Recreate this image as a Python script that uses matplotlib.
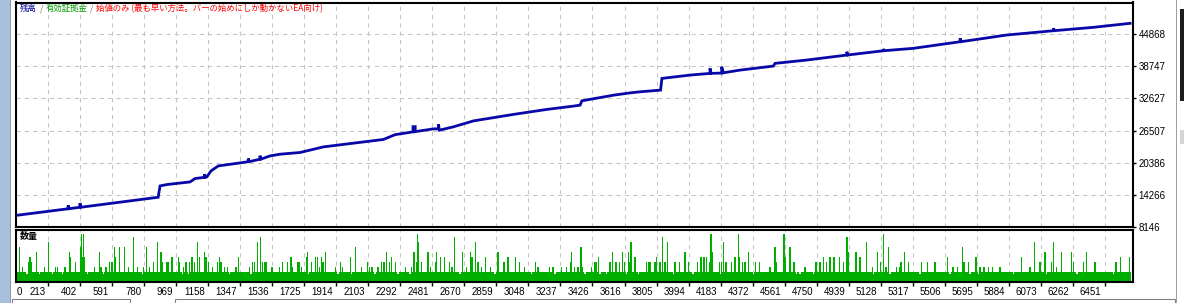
import numpy as np
import matplotlib.pyplot as plt
from matplotlib.patches import Rectangle
from matplotlib.offsetbox import TextArea, HPacker, AnchoredOffsetbox

W, H = 1184, 303
JP = ['Noto Sans CJK JP', 'DejaVu Sans']

# balance curve (trade no., balance)
bal_trade = [28, 330, 330, 336, 400, 400, 406, 862, 873, 913, 1050, 1080,
             1135, 1135, 1141, 1149, 1174, 1217, 1345, 1394, 1394, 1400,
             1463, 1463, 1469, 1523, 1582, 1700, 1838, 2192, 2261, 2367,
             2367, 2380, 2380, 2487, 2517, 2517, 2523, 2605, 2725, 2959,
             3156, 3314, 3354, 3364, 3553, 3652, 3708, 3829, 3837, 4003,
             4121, 4121, 4127, 4190, 4190, 4200, 4299, 4495, 4505, 4691,
             4929, 4929, 4935, 5145, 5145, 5151, 5321, 5598, 5598, 5604,
             5873, 6149, 6149, 6155, 6385, 6602]
bal_value = [10377, 11616, 12280, 11630, 11902, 12660, 11910, 13809, 15963,
             16230, 16726, 17374, 17600, 18194, 17620, 17679, 18823, 19776,
             20348, 20577, 21187, 20590, 21054, 21721, 21070, 21683, 22007,
             22331, 23399, 24810, 25725, 26259, 27250, 27250, 26300, 26830,
             26830, 27670, 26583, 27212, 28356, 29576, 30530, 31159, 31349,
             32170, 33256, 33695, 33886, 34210, 36440, 37070, 37394, 38346,
             37400, 37450, 38650, 37508, 38023, 38785, 39300, 39930, 40883,
             41512, 40900, 41702, 42027, 41720, 42160, 43418, 44066, 43430,
             44696, 45515, 45973, 45530, 46163, 46926]

y_ticks = [8146, 14266, 20386, 26507, 32627, 38747, 44868]
x_ticks = [0, 213, 402, 591, 780, 969, 1158, 1347, 1536, 1725, 1914, 2103,
           2292, 2481, 2670, 2859, 3048, 3237, 3426, 3616, 3805, 3994, 4183,
           4372, 4561, 4750, 4939, 5128, 5317, 5506, 5695, 5884, 6073, 6262,
           6451]

# volume panel: common lot size, floor, notches and the taller trades
n_trades = 6610
base_lot = 0.02
floor_lot = 0.016
dip_trade = [87, 160, 239, 298, 445, 538, 770, 1006, 1040, 1282, 1410, 1708,
             1747, 1924, 2003, 2141, 2279, 2348, 2643, 2850, 3066, 3204, 3383,
             3471, 3510, 3629, 3698, 3904, 4022, 4180, 4377, 4633, 4652, 4731,
             5086, 5184, 5361, 5539, 5657, 5706, 5834, 5913, 6109, 6287, 6503]
vol_trade = [42, 62, 95, 105, 115, 144, 190, 213, 254, 268, 312, 337, 343,
             373, 402, 408, 414, 420, 426, 485, 514, 524, 554, 573, 589, 603,
             609, 632, 662, 686, 715, 741, 774, 794, 810, 833, 859, 879, 888,
             914, 924, 943, 981, 987, 1013, 1026, 1046, 1062, 1075, 1095, 1105,
             1134, 1144, 1160, 1184, 1213, 1223, 1233, 1253, 1272, 1321, 1337,
             1400, 1420, 1430, 1450, 1465, 1479, 1489, 1499, 1534, 1577, 1597,
             1627, 1646, 1656, 1686,
             1694, 1708, 1737, 1743, 1767, 1790, 1802, 1816, 1826, 1836, 1849,
             1908, 1938, 1950, 1997, 2027, 2062, 2097, 2111, 2125, 2160, 2180,
             2196, 2210, 2229, 2239, 2263, 2322, 2357, 2373, 2387, 2393, 2399,
             2416, 2456, 2471, 2499, 2505, 2531, 2554, 2584, 2597, 2611, 2659,
             2682, 2706, 2716, 2735, 2751, 2771, 2794, 2826, 2869, 2905, 2928,
             2972, 2997, 3027, 3090, 3105, 3174, 3194, 3243, 3273, 3298, 3302,
             3322, 3342,
             3359, 3369, 3422, 3442, 3451, 3461, 3530, 3544, 3566, 3585, 3603,
             3615, 3638, 3648, 3654, 3678, 3747, 3756, 3766, 3796, 3806, 3825,
             3839, 3855, 3869, 3914, 3940, 3973, 3993, 4046, 4068, 4085, 4101,
             4117, 4127, 4135, 4176, 4190, 4200, 4215, 4249, 4268, 4288, 4294,
             4312, 4327, 4347, 4390, 4412, 4475, 4505, 4515, 4558, 4564, 4593,
             4617, 4682, 4747, 4767, 4774, 4790, 4810, 4830, 4853, 4885, 4908,
             4928, 4934, 4940, 4983, 5007,
             5011, 5046, 5080, 5109, 5129, 5145, 5160, 5174, 5224, 5240, 5249,
             5269, 5294, 5371, 5405, 5450, 5523, 5557, 5581, 5611, 5621, 5647,
             5692, 5715, 5739, 5765, 5791, 5834, 5962, 6011, 6037, 6070, 6100,
             6139, 6149, 6169, 6198, 6257, 6267, 6326, 6346, 6395, 6519, 6547,
             6598]
vol_lot = [0.07, 0.03, 0.04, 0.05, 0.04, 0.06, 0.03, 0.08, 0.03, 0.03, 0.03,
           0.06, 0.05, 0.04, 0.07, 0.095, 0.05, 0.095, 0.05, 0.03, 0.06, 0.03,
           0.03, 0.04, 0.04, 0.07, 0.05, 0.07, 0.07, 0.03, 0.09, 0.03, 0.03,
           0.07, 0.03, 0.04, 0.08, 0.06, 0.04, 0.04, 0.04, 0.05, 0.05, 0.04,
           0.03, 0.04, 0.04, 0.05, 0.04, 0.08, 0.05, 0.06, 0.05, 0.04, 0.03,
           0.04, 0.05, 0.04, 0.03, 0.03, 0.03, 0.05, 0.03, 0.04, 0.04, 0.08,
           0.09, 0.04, 0.04, 0.04, 0.03, 0.03, 0.04, 0.04, 0.05, 0.03, 0.04,
           0.04, 0.03, 0.05, 0.06, 0.04, 0.05, 0.05, 0.03, 0.05, 0.04, 0.06,
           0.03, 0.04, 0.03, 0.05, 0.07, 0.03, 0.04, 0.03, 0.03, 0.03, 0.04,
           0.04, 0.06, 0.04, 0.05, 0.04, 0.03, 0.03, 0.06, 0.04, 0.095, 0.08,
           0.04, 0.06, 0.03, 0.04, 0.06, 0.05, 0.05, 0.04, 0.03, 0.09, 0.06,
           0.03, 0.06, 0.05, 0.08, 0.04, 0.03, 0.05, 0.03, 0.06, 0.04, 0.05,
           0.05, 0.04, 0.03, 0.04, 0.03, 0.03, 0.03, 0.03, 0.03, 0.04, 0.06,
           0.03, 0.03,
           0.07, 0.03, 0.03, 0.04, 0.04, 0.05, 0.04, 0.06, 0.04, 0.04, 0.06,
           0.04, 0.06, 0.04, 0.08, 0.05, 0.04, 0.04, 0.04, 0.04, 0.05, 0.04,
           0.09, 0.04, 0.08, 0.04, 0.04, 0.06, 0.04, 0.04, 0.05, 0.05, 0.05,
           0.04, 0.095, 0.06, 0.04, 0.04, 0.08, 0.04, 0.04, 0.05, 0.095, 0.05,
           0.04, 0.04, 0.06, 0.04, 0.04, 0.03, 0.07, 0.04, 0.095, 0.05, 0.07,
           0.04, 0.03, 0.04, 0.04, 0.04, 0.05, 0.04, 0.05, 0.05, 0.05, 0.04,
           0.09, 0.09, 0.06, 0.06, 0.05,
           0.04, 0.08, 0.03, 0.06, 0.04, 0.095, 0.03, 0.07, 0.03, 0.03, 0.04,
           0.06, 0.04, 0.04, 0.04, 0.04, 0.05, 0.03, 0.03, 0.07, 0.04, 0.04,
           0.05, 0.03, 0.03, 0.03, 0.03, 0.03, 0.05, 0.03, 0.08, 0.04, 0.06,
           0.04, 0.08, 0.03, 0.06, 0.06, 0.04, 0.04, 0.06, 0.04, 0.04, 0.05,
           0.05]

BLUE = '#0808A8'
GREEN = '#00AE00'
GRID = '#C4C4C4'

plt.rcParams['font.family'] = JP
fig = plt.figure(figsize=(W / 100, H / 100), dpi=100)
fig.patch.set_facecolor('white')


def px_rect(x, y, w, h, **kw):
    fig.add_artist(Rectangle((x / W, 1 - (y + h) / H), w / W, h / H,
                             transform=fig.transFigure, **kw))


# window chrome around the chart
px_rect(0, 0, 10, H, facecolor='#A8C0DC', lw=0)
px_rect(10, 0, 1, H, facecolor='#8C9AAC', lw=0)
px_rect(1176, 0, 1, H, facecolor='#A0A0A0', lw=0)
px_rect(1180, 9, 4, 92, facecolor='#1C1C1C', lw=0)
px_rect(1180, 130, 4, 14, facecolor='#D4D4D4', lw=0)
px_rect(12, 299, 118, 6, facecolor='white', edgecolor='#808080', lw=0.8)
px_rect(175, 299, 1000, 6, facecolor='white', edgecolor='#808080', lw=0.8)

left, right = 16 / W, 1133 / W
ax = fig.add_axes([left, 1 - 227 / H, right - left, 224.5 / H])
ax2 = fig.add_axes([left, 1 - 282 / H, right - left, 52.5 / H])

x0, x1 = 22.4, 6619
for a in (ax, ax2):
    a.set_xlim(x0, x1)
    a.set_xticks(x_ticks[1:])
    a.grid(axis='x', color=GRID, lw=0.75, ls=(0, (4, 4)))
    a.set_axisbelow(True)
    for s in a.spines.values():
        s.set_linewidth(1.5)
        s.set_color('black')

# balance
ax.plot(bal_trade, bal_value, color=BLUE, lw=2.0, solid_joinstyle='miter')
ax.set_ylim(8146, 50890)
ax.set_yticks(y_ticks)
ax.grid(axis='y', color=GRID, lw=0.75, ls=(0, (4, 4)))
ax.yaxis.tick_right()
ax.tick_params(axis='y', length=2.5, width=1, pad=1.5, labelsize=7)
ax.tick_params(axis='x', length=0, labelbottom=False)
for lbl in ax.get_yticklabels():
    lbl.set_family('Liberation Sans')

# volume
ax2.fill_between([0, n_trades], 0, base_lot, color=GREEN, lw=0)
ax2.bar(dip_trade, [base_lot - floor_lot] * len(dip_trade), bottom=floor_lot,
        width=9, color='white', lw=0, antialiased=False)
ax2.bar(vol_trade, vol_lot, width=8, color=GREEN, lw=0, antialiased=False)
ax2.set_ylim(0, 0.104)
ax2.set_yticks([])
ax2.tick_params(axis='x', length=3, width=1, labelbottom=False)
ax2.text(4 / 1117, 0.86, '数量', transform=ax2.transAxes, fontsize=6.5,
         fontweight='bold', va='center', ha='left', family=JP)

# x labels sit just left of their grid line
ax2.annotate('0', xy=(0, 0), xycoords='axes fraction', xytext=(0.8, -3.6),
             textcoords='offset points', ha='left', va='top', fontsize=7,
             family='Liberation Sans')
for t in x_ticks[1:]:
    ax2.annotate(str(t), xy=(t, 0), xycoords=('data', 'axes fraction'),
                 xytext=(-2.2, -3.6), textcoords='offset points', ha='right',
                 va='top', fontsize=7, family='Liberation Sans')

# header
tp = dict(fontsize=6, family=JP)
parts = [TextArea('残高', textprops=dict(color='#000090', **tp)),
         TextArea('/', textprops=dict(color='#8A7A50', **tp)),
         TextArea('有効証拠金', textprops=dict(color='#009A00', **tp)),
         TextArea('/', textprops=dict(color='#8A7A50', **tp)),
         TextArea('始値のみ (最も早い方法。バーの始めにしか動かないEA向け)',
                  textprops=dict(color='#FF0000', **tp))]
box = HPacker(children=parts, align='baseline', pad=0, sep=2)
ab = AnchoredOffsetbox(loc='upper left', child=box, pad=0, borderpad=0,
                       frameon=False, bbox_to_anchor=(20 / W, 1 - 4 / H),
                       bbox_transform=fig.transFigure)
fig.add_artist(ab)

fig.savefig('out.png', dpi=100)
